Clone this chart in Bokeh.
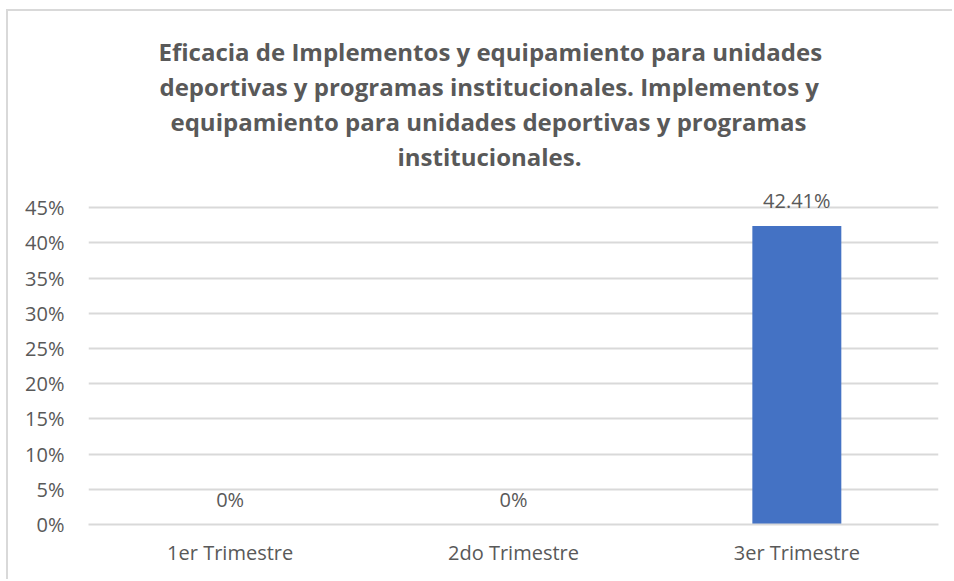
from bokeh.plotting import figure
from bokeh.models import FactorRange, FixedTicker, NumeralTickFormatter, Title, LabelSet, ColumnDataSource
from bokeh.core.properties import value
from bokeh.embed import file_html
from bokeh.resources import INLINE

categories = ["1er Trimestre", "2do Trimestre", "3er Trimestre"]
values = [0.0, 0.0, 0.4241]
labels = ["0%", "0%", "42.41%"]
y_ticks = [0.0, 0.05, 0.10, 0.15, 0.20, 0.25, 0.30, 0.35, 0.40, 0.45]
title_lines = [
    "Eficacia de Implementos y equipamiento para unidades",
    "deportivas y programas institucionales. Implementos y",
    "equipamiento para unidades deportivas y programas",
    "institucionales.",
]
# left offsets (px from plot area left) so each title line is centred over the chart
title_offsets = [70, 71, 82, 309]

FONT = "Open Sans"
TXT = "#595959"
GRID = "#d9d9d9"
W, H = 944, 568

src = ColumnDataSource(dict(cat=categories, val=values, lab=labels))

p = figure(
    x_range=FactorRange(*categories, range_padding=0),
    y_range=(0, 0.5),
    width=W, height=H,
    output_backend="svg", toolbar_location=None,
    min_border_left=80, min_border_right=14, min_border_bottom=55, min_border_top=161,
)
p.frame_width = 850
p.frame_height = 352

for line, off in zip(reversed(title_lines), reversed(title_offsets)):
    p.add_layout(Title(text=line, align="left", offset=off, text_font=FONT,
                       text_font_size="24px", text_font_style="bold", text_color=TXT,
                       standoff=0), "above")

p.vbar(x="cat", top="val", width=0.314, source=src, fill_color="#4472C4", line_color=None)
p.add_layout(LabelSet(x="cat", y="val", text="lab", source=src, text_align="center",
                      text_baseline="alphabetic", y_offset=18, text_font=value(FONT),
                      text_font_size=value("20px"), text_color=value(TXT)))

p.yaxis.ticker = FixedTicker(ticks=y_ticks)
p.yaxis.formatter = NumeralTickFormatter(format="0%")
p.yaxis.axis_line_color = None
p.yaxis.major_tick_line_color = None
p.yaxis.minor_tick_line_color = None
p.yaxis.major_label_text_font = FONT
p.yaxis.major_label_text_font_size = "20px"
p.yaxis.major_label_text_color = TXT
p.yaxis.major_label_standoff = 18

p.xaxis.axis_line_color = GRID
p.xaxis.axis_line_width = 2
p.xaxis.major_tick_line_color = None
p.xaxis.minor_tick_line_color = None
p.xaxis.major_label_text_font = FONT
p.xaxis.major_label_text_font_size = "20px"
p.xaxis.major_label_text_color = TXT
p.xaxis.major_label_standoff = 8

p.xgrid.grid_line_color = None
p.ygrid.grid_line_color = GRID
p.ygrid.grid_line_width = 2
p.outline_line_color = None
p.background_fill_color = "white"
p.border_fill_color = "white"
p.styles = {"border-top": "2px solid #d9d9d9", "border-left": "2px solid #d9d9d9",
            "margin-left": "6px", "margin-top": "9px"}

open("out.html", "w").write(file_html(p, INLINE))
